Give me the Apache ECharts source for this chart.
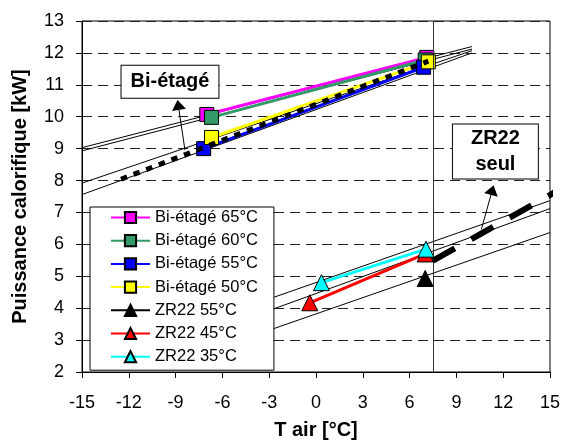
<!DOCTYPE html>
<html>
<head>
<meta charset="utf-8">
<script src="https://cdn.jsdelivr.net/npm/echarts@6/dist/echarts.min.js"></script>
<style>html,body{margin:0;padding:0;background:#fff}#c{width:563px;height:445px}</style>
</head>
<body>
<div id="c"></div>
<script>
// ---- data ----
const seriesNames = ['Bi-étagé 65°C','Bi-étagé 60°C','Bi-étagé 55°C','Bi-étagé 50°C','ZR22 55°C','ZR22 45°C','ZR22 35°C'];
const bi65 = [[-7.0, 10.07], [7.1, 11.86]];
const bi60 = [[-6.7, 9.98], [7.0, 11.78]];
const bi55 = [[-7.2, 9.0], [6.9, 11.55]];
const bi50 = [[-6.7, 9.35], [7.2, 11.72]];
const zr55 = [[7.0, 4.93]];
const zr45 = [[-0.4, 4.17], [7.0, 5.7]];
const zr35 = [[0.35, 4.8], [7.05, 5.85]];
// thin trend lines
const biTrendA = [[-15, 9.03], [10, 12.2]];
const biTrendB = [[-15, 8.93], [10, 12.12]];
const biTrendC = [[-15, 7.92], [10, 12.07]];
const biTrendD = [[-15, 7.56], [10, 12.0]];
const zrTrendE = [[-4, 4.12], [15, 7.37]];
const zrTrendF = [[-4, 3.75], [15, 7.12]];
const zrTrendG = [[-4, 3.14], [15, 6.37]];
// thick trend lines
const biDotted = [[-12.5, 8.04], [7.2, 11.74]];
const zrDashed = [[7.5, 5.49], [15.3, 7.63]];
// annotations
const limitX = 7.5;
const biArrow = [[-8.4, 8.95], [-8.83, 10.37]];
const zrArrow = [[10.6, 6.47], [11.3, 7.7]];
const biLabelPos = [-9.36, 11.1];
const zrLabelPos = [11.5, 8.91];
const xTicks = {min: -15, max: 15, step: 3};
const yTicks = {min: 2, max: 13, step: 1};

const FONT = "'Liberation Sans', Arial, sans-serif";
const chart = echarts.init(document.getElementById('c'), null, {renderer: 'canvas'});

function thin(data) {
  return {type: 'line', data: data, symbol: 'none', silent: true, z: 1,
    lineStyle: {color: '#000', width: 1}};
}
function main(name, data, color, symbol, size) {
  return {type: 'line', name: name, data: data, symbol: symbol, symbolSize: size, z: 3,
    lineStyle: {color: color, width: 3},
    itemStyle: {color: color, borderColor: '#000', borderWidth: 1}};
}
const boxLabel = {
  show: true, position: 'inside', color: '#000', fontFamily: FONT, fontWeight: 'bold',
  fontSize: 20, backgroundColor: '#fff', borderColor: '#000', borderWidth: 1
};

const option = {
  animation: false,
  backgroundColor: '#fff',
  grid: {left: 82, right: 13, top: 21, bottom: 69, show: true, borderColor: '#000', borderWidth: 1},
  xAxis: {
    type: 'value', min: xTicks.min, max: xTicks.max, interval: xTicks.step,
    name: 'T air [°C]', nameLocation: 'middle', nameGap: 48,
    nameTextStyle: {fontFamily: FONT, fontWeight: 'bold', fontSize: 20, color: '#000'},
    axisLine: {onZero: false, lineStyle: {color: '#000', width: 1}},
    axisTick: {show: true, length: 6, lineStyle: {color: '#000'}},
    axisLabel: {fontFamily: FONT, fontSize: 18, color: '#000', margin: 22},
    splitLine: {show: false}
  },
  yAxis: {
    type: 'value', min: yTicks.min, max: yTicks.max, interval: yTicks.step,
    name: 'Puissance calorifique [kW]', nameLocation: 'middle', nameGap: 52,
    nameTextStyle: {fontFamily: FONT, fontWeight: 'bold', fontSize: 20, color: '#000'},
    axisLine: {onZero: false, lineStyle: {color: '#000', width: 1}},
    axisTick: {show: true, length: 6, lineStyle: {color: '#000'}},
    axisLabel: {fontFamily: FONT, fontSize: 18, color: '#000', margin: 18},
    splitLine: {show: true, lineStyle: {color: '#222', width: 1, type: [10, 6]}}
  },
  legend: {
    data: seriesNames, orient: 'vertical', left: 90, top: 207,
    padding: [2, 16, 5, 20], itemGap: 6.2, itemWidth: 39, itemHeight: 14,
    backgroundColor: '#fff', borderColor: '#000', borderWidth: 1, borderRadius: 0,
    textStyle: {fontFamily: FONT, fontSize: 16.5, color: '#000'},
    z: 10
  },
  series: [
    thin(biTrendA), thin(biTrendB), thin(biTrendC), thin(biTrendD),
    thin(zrTrendE), thin(zrTrendF), thin(zrTrendG),
    {type: 'line', data: biDotted, symbol: 'none', silent: true, z: 5,
     lineStyle: {color: '#000', width: 5, type: [6.5, 7], cap: 'butt'},
     markLine: {
       silent: true, symbol: ['none', 'triangle'], symbolSize: [14, 10], label: {show: false},
       lineStyle: {color: '#000', width: 1, type: 'solid'},
       data: [
         [{coord: biArrow[0]}, {coord: biArrow[1]}],
         [{coord: zrArrow[0]}, {coord: zrArrow[1]}],
         [{coord: [limitX, yTicks.min], symbol: 'none'}, {coord: [limitX, yTicks.max], symbol: 'none', lineStyle: {color: '#333'}}]
       ]
     },
     markPoint: {
       silent: true,
       data: [
         {coord: biLabelPos, symbol: 'rect', symbolSize: 0,
          label: Object.assign({}, boxLabel, {formatter: 'Bi-étagé', padding: [6, 9, 6, 9]})},
         {coord: zrLabelPos, symbol: 'rect', symbolSize: 0,
          label: Object.assign({}, boxLabel, {formatter: 'ZR22\nseul', lineHeight: 26, padding: [1, 18, 1, 18]})}
       ]
     }
    },
    {type: 'line', data: zrDashed, symbol: 'none', silent: true, z: 5, clip: false,
     lineStyle: {color: '#000', width: 6, type: [25, 19], cap: 'butt'}},
    main(seriesNames[0], bi65, '#FF00FF', 'rect', 14),
    main(seriesNames[1], bi60, '#339966', 'rect', 14),
    main(seriesNames[2], bi55, '#0000FF', 'rect', 14),
    main(seriesNames[3], bi50, '#FFFF00', 'rect', 14),
    main(seriesNames[4], zr55, '#000000', 'triangle', 16),
    main(seriesNames[5], zr45, '#FF0000', 'triangle', 16),
    main(seriesNames[6], zr35, '#00FFFF', 'triangle', 16)
  ]
};
chart.setOption(option);
</script>
</body>
</html>
